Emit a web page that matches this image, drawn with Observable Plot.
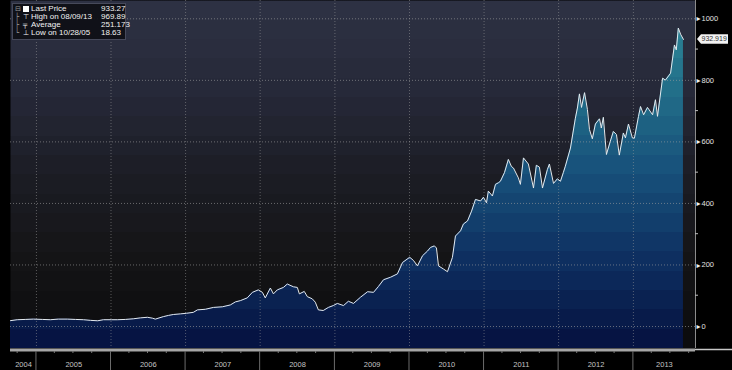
<!DOCTYPE html>
<html><head><meta charset="utf-8">
<script src="https://cdn.jsdelivr.net/npm/d3@7"></script>
<script src="https://cdn.jsdelivr.net/npm/@observablehq/plot@0.6"></script>
<style>
html,body{margin:0;padding:0;background:#000;}
#wrap{position:relative;width:732px;height:370px;overflow:hidden;font-family:"Liberation Sans",Arial,sans-serif;}
#legend{position:absolute;left:12px;top:3px;width:114px;height:37px;background:rgba(14,15,22,0.93);border:1px solid #46495a;box-sizing:border-box;color:#f2f2f2;font-size:8px;}
#legend .row{position:absolute;left:0;height:8px;line-height:8px;width:112px;white-space:nowrap;}
#legend .tree{position:absolute;left:2px;color:#9a9a9a;font-family:"DejaVu Sans";font-size:7px;}
#legend .icon{position:absolute;left:10px;font-family:"DejaVu Sans";font-size:7px;}
#legend .sq{position:absolute;left:10px;top:1px;width:6px;height:6px;background:#fff;}
#legend .name{position:absolute;left:18px;}
#legend .val{position:absolute;left:88px;}
</style></head>
<body><div id="wrap"></div>
<script>
const dates = [
"2004-08-27","2004-09-29","2004-11-07","2004-12-17","2005-01-30","2005-03-10","2005-04-18","2005-06-01","2005-07-11","2005-08-19",
"2005-09-22","2005-10-28","2005-11-25","2006-01-03","2006-02-01","2006-03-12","2006-04-20","2006-05-25","2006-06-28","2006-07-23",
"2006-08-06","2006-09-14","2006-10-09","2006-11-02","2006-12-07","2007-01-05","2007-02-08","2007-02-28","2007-04-08","2007-05-17",
"2007-06-30","2007-08-08","2007-09-02","2007-09-26","2007-10-30","2007-11-24","2007-12-23","2008-01-12","2008-01-26","2008-02-20",
"2008-03-06","2008-03-25","2008-04-24","2008-05-13","2008-06-12","2008-07-01","2008-07-11","2008-08-04","2008-08-19","2008-09-12",
"2008-09-27","2008-10-12","2008-11-05","2008-11-30","2008-12-24","2009-01-13","2009-02-12","2009-03-08","2009-04-02","2009-05-06",
"2009-06-10","2009-07-09","2009-08-02","2009-08-27","2009-09-30","2009-11-03","2009-11-28","2010-01-02","2010-01-20","2010-02-09",
"2010-03-06","2010-03-30","2010-04-14","2010-05-03","2010-05-13","2010-05-23","2010-06-16","2010-07-06","2010-07-30","2010-08-14",
"2010-09-08","2010-09-22","2010-10-12","2010-11-01","2010-11-20","2010-12-15","2010-12-29","2011-01-13","2011-01-22","2011-02-11",
"2011-02-26","2011-03-12","2011-03-22","2011-04-11","2011-04-30","2011-05-15","2011-05-25","2011-06-18","2011-06-28","2011-07-13",
"2011-08-06","2011-08-31","2011-09-14","2011-09-29","2011-10-14","2011-11-07","2011-11-17","2011-12-07","2011-12-26","2012-01-10",
"2012-01-24","2012-02-03","2012-02-28","2012-03-23","2012-04-02","2012-04-12","2012-04-22","2012-05-07","2012-05-21","2012-05-31",
"2012-06-14","2012-06-29","2012-07-19","2012-07-28","2012-08-07","2012-08-22","2012-09-10","2012-09-25","2012-10-10","2012-10-24",
"2012-11-13","2012-11-23","2012-12-08","2012-12-27","2013-01-06","2013-01-26","2013-02-05","2013-02-20","2013-03-11","2013-04-05",
"2013-04-19","2013-04-29","2013-05-24","2013-06-07","2013-07-02","2013-07-21","2013-07-30","2013-08-09","2013-08-20","2013-09-03"
];
const prices = [
19,22,23,24,23,22,24,24,23,22,
20,18.63,22,22,22,23,25,28,30,27,
24,32,36,39,41,43,46,54,56,62,
64,70,80,84,93,111,119,111,93,125,
106,119,127,138,129,127,106,114,97,90,
79,54,52,62,68,75,68,82,75,95,
113,111,130,152,160,171,208,225,215,197,
230,245,257,262,255,197,187,178,224,294,
311,333,343,375,413,408,420,402,440,424,
462,467,472,500,543,520,515,483,462,548,
528,450,524,518,450,510,528,465,480,472,
500,521,580,677,710,756,712,760,705,640,
610,658,675,645,680,559,602,634,624,557,
629,613,658,613,612,683,715,688,712,688,
737,683,807,801,823,915,899,969.89,950,932.919
];
const yTicks = [0, 200, 400, 600, 800, 1000];
const yMinorTicks = [100, 300, 500, 700, 900];
const years = ["2004","2005","2006","2007","2008","2009","2010","2011","2012","2013"];
const legendNames = ["Last Price","High on 08/09/13","Average","Low on 10/28/05"];
const legendValues = ["933.27","969.89","251.173","18.63"];
const legendIcons = ["■","⊤","╤","⊥"];
const lastLabel = "932.919";

const W = 732, H = 370;
const yMin = -71.5, yMax = 1059.5;
const xDomain = [new Date("2004-08-27"), new Date("2013-11-01")];

const data = dates.map((d, i) => ({date: new Date(d), price: prices[i]}));
const yearDates = years.map(y => new Date(`${y}-01-01`));
const yearStarts = yearDates.filter(d => d > xDomain[0]);
const yearMids = yearDates.map((d, i) => {
  const s = Math.max(+d, +xDomain[0]);
  const nx = new Date(`${+years[i] + 1}-01-01`);
  const e = Math.min(+nx, +xDomain[1]);
  return new Date((s + e) / 2);
});

const chart = Plot.plot({
  width: W, height: H,
  marginLeft: 10, marginRight: 37, marginTop: 0, marginBottom: 22,
  style: {background: "#000", fontFamily: "Liberation Sans, Arial, sans-serif", overflow: "visible"},
  x: {type: "utc", domain: xDomain, axis: null},
  y: {domain: [yMin, yMax], axis: null},
  marks: [
    Plot.frame({fill: "url(#bgGrad)", stroke: "none"}),
    Plot.areaY(data, {x: "date", y1: () => yMin, y2: "price", fill: "url(#areaGrad)"}),
    Plot.ruleY(yTicks, {stroke: "#a0a0a0", strokeOpacity: 0.6, strokeDasharray: "1,2"}),
    Plot.ruleX(yearStarts, {stroke: "#a0a0a0", strokeOpacity: 0.5, strokeDasharray: "1,2"}),
    Plot.lineY(data, {x: "date", y: "price", stroke: "#e4eaee", strokeWidth: 1}),
    Plot.ruleX([xDomain[1]], {stroke: "#8c8c8c"}),
    Plot.ruleY([yMin], {stroke: "#a6a6a6", strokeWidth: 3, dy: 1.5}),
    Plot.text(yTicks, {y: d => d, text: () => "▸", frameAnchor: "right", dx: 3, textAnchor: "middle", fill: "#f0f0f0", fontSize: 8, fontFamily: "DejaVu Sans"}),
    Plot.text(yTicks, {y: d => d, text: d => String(d), frameAnchor: "right", dx: 6, textAnchor: "start", fill: "#e2e2e2", fontSize: 7.5}),
    Plot.text(years, {x: (d, i) => yearMids[i], y: () => yMin, text: d => d, dy: 16, fill: "#c4c4c4", fontSize: 7.5})
  ]
});

const xs = chart.scale("x"), ys = chart.scale("y");
const sel = d3.select(chart);
const defs = sel.insert("defs", ":first-child");
const plotBottom = ys.range[0], plotTop = ys.range[1];
const xRight = xs.range[1];

function stepped(id, anchors, n) {
  const g = defs.append("linearGradient").attr("id", id)
    .attr("gradientUnits", "userSpaceOnUse")
    .attr("x1", 0).attr("x2", 0).attr("y1", plotTop).attr("y2", plotBottom);
  const interp = d3.piecewise(d3.interpolateRgb, anchors);
  for (let i = 0; i < n; i++) {
    const c = interp((i + 0.5) / n);
    g.append("stop").attr("offset", i / n).attr("stop-color", c);
    g.append("stop").attr("offset", (i + 1) / n).attr("stop-color", c);
  }
}
stepped("areaGrad", ["#2f8c9c", "#226f89", "#17507a", "#0e2f60", "#05113f"], 18);
stepped("bgGrad", ["#2e3244", "#262939", "#1c1d25", "#141416", "#0b0b0d"], 18);

const deco = sel.append("g").attr("text-anchor", "start");
yearStarts.forEach(d => {
  deco.append("line").attr("x1", xs.apply(d)).attr("x2", xs.apply(d))
    .attr("y1", plotBottom + 3).attr("y2", H).attr("stroke", "#6c6c6c");
});
d3.utcMonth.every(3).range(xDomain[0], xDomain[1]).filter(d => d.getUTCMonth() !== 0).forEach(d => {
  deco.append("line").attr("x1", xs.apply(d)).attr("x2", xs.apply(d))
    .attr("y1", plotBottom + 3).attr("y2", plotBottom + 5).attr("stroke", "#7a7a7a");
});
deco.append("line").attr("x1", xRight).attr("x2", W).attr("y1", plotBottom + 1.5).attr("y2", plotBottom + 1.5)
  .attr("stroke", "#c8c8c8").attr("stroke-width", 1.5);
yMinorTicks.forEach(v => {
  deco.append("line").attr("x1", xRight).attr("x2", xRight + 3).attr("y1", ys.apply(v)).attr("y2", ys.apply(v))
    .attr("stroke", "#bdbdbd");
});
const last = data[data.length - 1];
const ly = ys.apply(last.price), lx = xRight + 2;
deco.append("path").attr("d", `M${lx},${ly}L${lx + 4},${ly - 4.7}H${lx + 31}V${ly + 4.7}H${lx + 4}Z`).attr("fill", "#f2f2f2");
deco.append("text").attr("x", lx + 4.5).attr("y", ly).attr("dy", "0.35em").attr("font-size", 7)
  .attr("text-anchor", "start").attr("fill", "#333").text(lastLabel);

const wrap = d3.select("#wrap");
wrap.node().appendChild(chart);
const lg = wrap.append("div").attr("id", "legend");
legendNames.forEach((n, i) => {
  const row = lg.append("div").attr("class", "row").style("top", (1 + i * 8) + "px");
  row.append("span").attr("class", "tree").text(i === 0 ? "⊟" : (i === legendNames.length - 1 ? "└" : "├"));
  if (i === 0) row.append("span").attr("class", "sq");
  else row.append("span").attr("class", "icon").text(legendIcons[i]);
  row.append("span").attr("class", "name").text(n);
  row.append("span").attr("class", "val").text(legendValues[i]);
});
</script>
</body></html>
